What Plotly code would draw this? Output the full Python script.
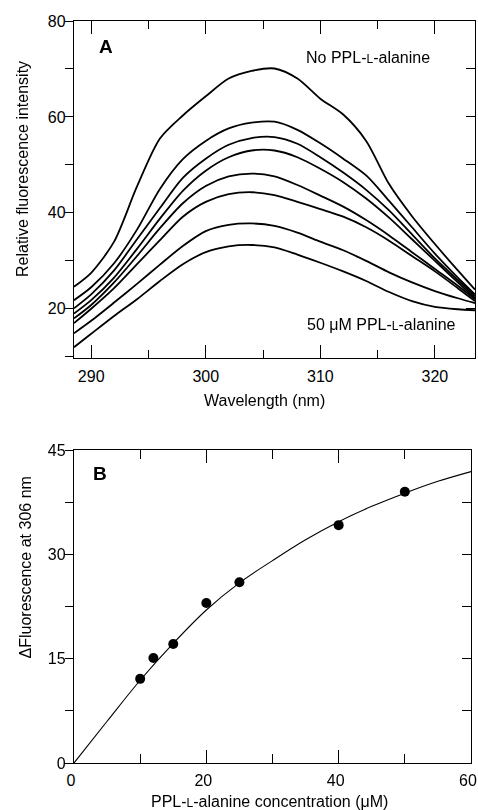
import plotly.graph_objects as go
from plotly.subplots import make_subplots

# ---------------- Panel A data ----------------
wavelength = [288.5, 290, 292, 294, 296, 298, 300, 302, 304, 306, 308, 310,
              312, 314, 316, 318, 320, 322, 323.5]

f_0uM = [24.6, 27.5, 34.0, 45.5, 55.5, 60.3, 64.3, 68.0, 69.6, 70.1, 68.0, 63.8,
         60.5, 55.0, 46.0, 39.3, 33.5, 28.0, 24.0]
f_10uM = [21.8, 24.5, 29.5, 36.5, 45.0, 51.2, 55.0, 57.6, 58.8, 59.0, 57.3, 54.5,
          51.3, 47.8, 42.5, 37.0, 31.5, 26.5, 23.0]
f_12uM = [20.1, 23.0, 28.0, 34.5, 41.0, 47.3, 51.3, 54.2, 55.6, 55.8, 54.4, 51.6,
          48.4, 44.8, 40.5, 35.5, 30.5, 26.0, 22.6]
f_15uM = [19.0, 21.8, 26.5, 32.5, 38.8, 44.6, 48.8, 51.6, 53.0, 53.0, 51.6, 49.2,
          46.4, 43.0, 39.0, 34.5, 30.0, 25.5, 22.2]
f_20uM = [18.0, 20.8, 25.5, 31.0, 36.8, 42.0, 45.6, 47.6, 48.2, 47.6, 45.8, 43.6,
          41.3, 38.5, 35.3, 31.8, 28.3, 24.8, 22.0]
f_25uM = [17.0, 20.0, 24.3, 29.3, 34.3, 39.2, 42.3, 43.9, 44.3, 43.7, 42.3, 40.8,
          39.2, 37.0, 34.2, 31.0, 27.8, 24.3, 21.6]
f_40uM = [14.9, 17.5, 21.3, 25.2, 29.2, 33.1, 36.2, 37.5, 37.8, 37.3, 35.9, 34.0,
          32.2, 30.0, 27.6, 25.5, 23.7, 22.2, 21.2]
f_50uM = [12.0, 14.8, 18.5, 22.0, 25.8, 29.3, 31.8, 33.0, 33.3, 32.8, 31.3, 29.6,
          27.8, 25.8, 23.5, 21.6, 20.4, 19.9, 19.7]

spectra = [f_0uM, f_10uM, f_12uM, f_15uM, f_20uM, f_25uM, f_40uM, f_50uM]

# ---------------- Panel B data ----------------
conc = [10, 12, 15, 20, 25, 40, 50]
delta_f = [12.1, 15.1, 17.1, 23.0, 26.0, 34.2, 39.0]

fit_conc = [0, 5, 10, 15, 20, 25, 30, 35, 40, 45, 50, 55, 60]
fit_delta = [0, 6.0, 11.9, 17.2, 22.0, 25.9, 29.1, 32.1, 34.7, 36.9, 38.8, 40.5, 41.9]

FONT = "Liberation Sans, Arial, sans-serif"
SC = '<span style="font-size:12px">L</span>'

fig = make_subplots(rows=2, cols=1,
                    specs=[[{"secondary_y": True}], [{"secondary_y": True}]])

for s in spectra:
    fig.add_trace(go.Scatter(x=wavelength, y=s, mode="lines",
                             line=dict(color="black", width=1.8, shape="spline", smoothing=0.8),
                             showlegend=False, hoverinfo="skip"),
                  row=1, col=1, secondary_y=False)
# invisible copy on the secondary (right-hand) axis so that the right frame/ticks are drawn
fig.add_trace(go.Scatter(x=wavelength, y=f_0uM, mode="lines", line=dict(width=0),
                         opacity=0, showlegend=False, hoverinfo="skip"),
              row=1, col=1, secondary_y=True)

fig.add_trace(go.Scatter(x=fit_conc, y=fit_delta, mode="lines",
                         line=dict(color="black", width=1.1, shape="spline"),
                         showlegend=False, hoverinfo="skip"),
              row=2, col=1, secondary_y=False)
fig.add_trace(go.Scatter(x=conc, y=delta_f, mode="markers",
                         marker=dict(color="black", size=10), showlegend=False),
              row=2, col=1, secondary_y=False)
fig.add_trace(go.Scatter(x=conc, y=delta_f, mode="markers", marker=dict(size=1),
                         opacity=0, showlegend=False, hoverinfo="skip"),
              row=2, col=1, secondary_y=True)

axcommon = dict(showline=True, linecolor="black", linewidth=1.3, showgrid=False,
                zeroline=False, tickcolor="black", tickwidth=1.2, automargin=False,
                tickfont=dict(family=FONT, size=16, color="black"))

yA_dom = [0.5462, 1.0]
yB_dom = [0.0, 0.4218]

# make_subplots naming: row1 -> x / y (left) / y2 (right); row2 -> x2 / y3 (left) / y4 (right)
fig.update_layout(
    width=478, height=810,
    margin=dict(l=74, r=3, t=21, b=47),
    paper_bgcolor="white", plot_bgcolor="white",
    font=dict(family=FONT, size=16, color="black"),
    xaxis=dict(domain=[0, 1], range=[288.5, 323.5], tick0=0, dtick=10,
               ticks="inside", ticklen=13, mirror="ticks", ticklabelstandoff=4,
               minor=dict(dtick=5, ticks="inside", ticklen=8, tickcolor="black", tickwidth=1.2),
               **axcommon),
    yaxis=dict(domain=yA_dom, range=[9.8, 80], tick0=0, dtick=20,
               ticks="outside", ticklen=8, ticklabelstandoff=-4,
               minor=dict(dtick=10, ticks="outside", ticklen=8, tickcolor="black", tickwidth=1.2),
               **axcommon),
    yaxis2=dict(range=[9.8, 80], tick0=0, dtick=20, side="right",
                ticks="inside", ticklen=9, showticklabels=False,
                minor=dict(dtick=10, ticks="inside", ticklen=9, tickcolor="black", tickwidth=1.2),
                **axcommon),
    xaxis2=dict(domain=[0, 0.99], range=[0, 60], tick0=0, dtick=20,
                ticks="inside", ticklen=13, mirror="ticks", ticklabelstandoff=3,
                ticklabeloverflow="allow", ticklabelshift=-3,
                minor=dict(dtick=10, ticks="inside", ticklen=9, tickcolor="black", tickwidth=1.2),
                **axcommon),
    yaxis3=dict(domain=yB_dom, range=[0, 45], tick0=0, dtick=15,
                ticks="outside", ticklen=8, ticklabelstandoff=-4,
                minor=dict(dtick=7.5, ticks="outside", ticklen=8, tickcolor="black", tickwidth=1.2),
                **axcommon),
    yaxis4=dict(range=[0, 45], tick0=0, dtick=15, side="right",
                ticks="inside", ticklen=9, showticklabels=False,
                minor=dict(dtick=7.5, ticks="inside", ticklen=9, tickcolor="black", tickwidth=1.2),
                **axcommon),
)

ann = []
tf = dict(family=FONT, size=16, color="black")
# panel letters
ann.append(dict(text="<b>A</b>", x=0.0786, y=0.924, xref="x domain", yref="y domain",
                showarrow=False, font=dict(family=FONT, size=19, color="black"),
                xanchor="center", yanchor="middle"))
ann.append(dict(text="<b>B</b>", x=0.0647, y=0.924, xref="x2 domain", yref="y3 domain",
                showarrow=False, font=dict(family=FONT, size=19, color="black"),
                xanchor="center", yanchor="middle"))
# curve labels
ann.append(dict(text="No PPL-" + SC + "-alanine", x=0.574, y=0.893, xref="x domain",
                yref="y domain", showarrow=False, font=tf, xanchor="left", yanchor="middle"))
ann.append(dict(text="50 μM PPL-" + SC + "-alanine", x=0.576, y=0.100, xref="x domain",
                yref="y domain", showarrow=False, font=tf, xanchor="left", yanchor="middle"))
# axis titles
ann.append(dict(text="Wavelength (nm)", x=0.476, y=0.4879, xref="paper", yref="paper",
                showarrow=False, font=tf, xanchor="center", yanchor="middle"))
ann.append(dict(text="Relative fluorescence intensity", x=-0.1297, y=0.8005, xref="paper",
                yref="paper", showarrow=False, font=tf, textangle=-90,
                xanchor="center", yanchor="middle"))
ann.append(dict(text="ΔFluorescence at 306 nm", x=-0.1222, y=0.2635, xref="paper",
                yref="paper", showarrow=False, font=tf, textangle=-90,
                xanchor="center", yanchor="middle"))
ann.append(dict(text="PPL-" + SC + "-alanine concentration (μM)", x=0.4875, y=-0.0525,
                xref="paper", yref="paper", showarrow=False, font=tf,
                xanchor="center", yanchor="middle"))
fig.update_layout(annotations=ann)

# remove the default 8px page margin so the 478x810 figure fills the window exactly
fig.write_html("out.html", config={"displayModeBar": False},
               post_script="document.body.style.margin='0px';")
